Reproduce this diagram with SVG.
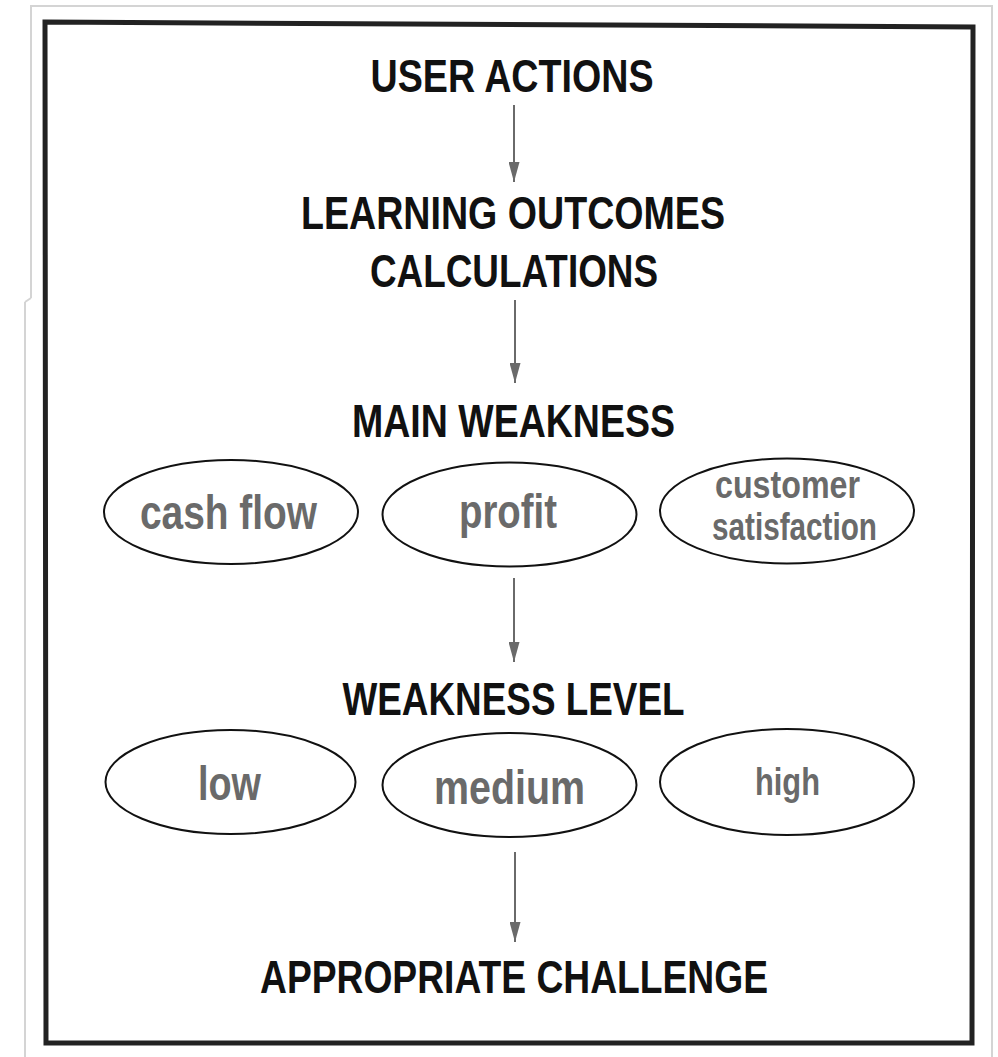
<svg xmlns="http://www.w3.org/2000/svg" width="998" height="1057" viewBox="0 0 998 1057">
<defs>
<style>
.h{font-family:"Liberation Sans Narrow","Liberation Sans",Arial,sans-serif;font-weight:bold;font-size:47px;fill:#111;text-anchor:middle}
.n{font-family:"Liberation Sans Narrow","Liberation Sans",Arial,sans-serif;font-weight:bold;font-size:48px;fill:#6a6a6a;text-anchor:middle}
.s{font-size:39px}
.e{fill:#fff;stroke:#111;stroke-width:2}
.c{stroke:#6a6a6a;stroke-width:2;fill:none;marker-end:url(#ah)}
</style>
<marker id="ah" markerUnits="userSpaceOnUse" viewBox="0 0 20 11" refX="20" refY="5.5" markerWidth="20" markerHeight="11" orient="auto">
<path d="M0,0 L20,5.5 L0,11 z" fill="#6a6a6a"/>
</marker>
</defs>
<rect width="998" height="1057" fill="#fff"/>
<g id="frame">
<path d="M31,298 L31,6 L992,6 L992,1057" fill="none" stroke="#d4d4d4" stroke-width="2"/>
<path d="M25,302 L25,1057" fill="none" stroke="#d4d4d4" stroke-width="2"/>
<path d="M31,298 L25,302" fill="none" stroke="#d4d4d4" stroke-width="2"/>
<polygon points="45,22 973,27 972,1043 46,1043" fill="none" stroke="#222" stroke-width="5"/>
</g>
<g id="connectors">
<line class="c" x1="514" y1="105" x2="514" y2="182"/>
<line class="c" x1="515" y1="300" x2="515" y2="383"/>
<line class="c" x1="514" y1="578" x2="514" y2="662"/>
<line class="c" x1="515" y1="852" x2="515" y2="942"/>
</g>
<g id="user-actions"><text class="h" x="512" y="92" textLength="283" lengthAdjust="spacingAndGlyphs">USER ACTIONS</text></g>
<g id="learning-outcomes">
<text class="h" x="513" y="229" textLength="424" lengthAdjust="spacingAndGlyphs">LEARNING OUTCOMES</text>
<text class="h" x="514" y="287" textLength="288" lengthAdjust="spacingAndGlyphs">CALCULATIONS</text>
</g>
<g id="main-weakness"><text class="h" x="513.5" y="437" textLength="323" lengthAdjust="spacingAndGlyphs">MAIN WEAKNESS</text></g>
<g id="cash-flow">
<ellipse class="e" cx="231" cy="512" rx="127" ry="52"/>
<text class="n" x="228.5" y="529" textLength="177" lengthAdjust="spacingAndGlyphs">cash flow</text>
</g>
<g id="profit">
<ellipse class="e" cx="509.5" cy="514.5" rx="127" ry="52"/>
<text class="n" x="508" y="528" textLength="98" lengthAdjust="spacingAndGlyphs">profit</text>
</g>
<g id="customer-satisfaction">
<ellipse class="e" cx="787" cy="511" rx="127" ry="52.5"/>
<text class="n s" x="787.5" y="498" textLength="145" lengthAdjust="spacingAndGlyphs">customer</text>
<text class="n s" x="794.5" y="540" textLength="165" lengthAdjust="spacingAndGlyphs">satisfaction</text>
</g>
<g id="weakness-level"><text class="h" x="513.5" y="715" textLength="342" lengthAdjust="spacingAndGlyphs">WEAKNESS LEVEL</text></g>
<g id="low">
<ellipse class="e" cx="230.5" cy="782" rx="125" ry="52"/>
<text class="n" x="229.5" y="800" textLength="63" lengthAdjust="spacingAndGlyphs">low</text>
</g>
<g id="medium">
<ellipse class="e" cx="509.5" cy="785" rx="127" ry="52"/>
<text class="n" x="509.5" y="804" textLength="151" lengthAdjust="spacingAndGlyphs">medium</text>
</g>
<g id="high">
<ellipse class="e" cx="787" cy="782" rx="127" ry="53"/>
<text class="n s" x="787.5" y="795" textLength="65" lengthAdjust="spacingAndGlyphs">high</text>
</g>
<g id="appropriate-challenge"><text class="h" x="514" y="993" textLength="508" lengthAdjust="spacingAndGlyphs">APPROPRIATE CHALLENGE</text></g>
</svg>
